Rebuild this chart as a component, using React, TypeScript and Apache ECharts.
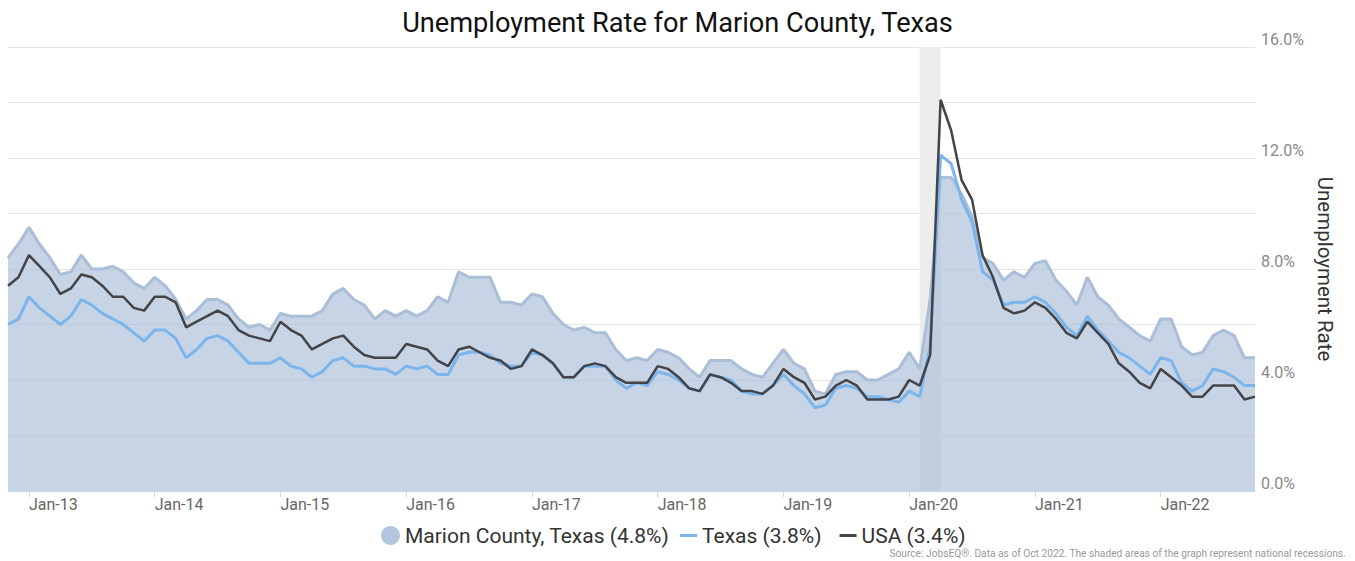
import React, { useEffect, useRef } from "react";
import * as echarts from "echarts";

const MONTHS = ["Jan", "Feb", "Mar", "Apr", "May", "Jun", "Jul", "Aug", "Sep", "Oct", "Nov", "Dec"];
// Monthly categories Nov-12 .. Oct-22
const categories: string[] = Array.from({ length: 120 }, (_, k) => {
  const m = (10 + k) % 12;
  const y = 12 + Math.floor((10 + k) / 12);
  return `${MONTHS[m]}-${String(y).padStart(2, "0")}`;
});

const marion = [
  8.4, 8.9, 9.5, 8.9, 8.4, 7.8, 7.9, 8.5, 8.0, 8.0, 8.1, 7.9,
  7.5, 7.3, 7.7, 7.4, 6.9, 6.2, 6.5, 6.9, 6.9, 6.7, 6.2, 5.9,
  6.0, 5.8, 6.4, 6.3, 6.3, 6.3, 6.5, 7.1, 7.3, 6.9, 6.7, 6.2,
  6.5, 6.3, 6.5, 6.3, 6.5, 7.0, 6.8, 7.9, 7.7, 7.7, 7.7, 6.8,
  6.8, 6.7, 7.1, 7.0, 6.4, 6.0, 5.8, 5.9, 5.7, 5.7, 5.1, 4.7,
  4.8, 4.7, 5.1, 5.0, 4.8, 4.4, 4.1, 4.7, 4.7, 4.7, 4.4, 4.2,
  4.1, 4.6, 5.1, 4.6, 4.4, 3.6, 3.5, 4.2, 4.3, 4.3, 4.0, 4.0,
  4.2, 4.4, 5.0, 4.4, 6.9, 11.3, 11.3, 10.7, 9.9, 8.4, 8.2, 7.6,
  7.9, 7.7, 8.2, 8.3, 7.6, 7.2, 6.7, 7.7, 7.0, 6.7, 6.2, 5.9,
  5.6, 5.4, 6.2, 6.2, 5.2, 4.9, 5.0, 5.6, 5.8, 5.6, 4.8, 4.8,
];

const texas = [
  6.0, 6.2, 7.0, 6.6, 6.3, 6.0, 6.3, 6.9, 6.7, 6.4, 6.2, 6.0,
  5.7, 5.4, 5.8, 5.8, 5.5, 4.8, 5.1, 5.5, 5.6, 5.4, 5.0, 4.6,
  4.6, 4.6, 4.8, 4.5, 4.4, 4.1, 4.3, 4.7, 4.8, 4.5, 4.5, 4.4,
  4.4, 4.2, 4.5, 4.4, 4.5, 4.2, 4.2, 4.9, 5.0, 5.0, 4.9, 4.6,
  4.5, 4.5, 5.0, 4.9, 4.6, 4.1, 4.1, 4.5, 4.5, 4.5, 4.0, 3.7,
  3.9, 3.8, 4.3, 4.2, 4.0, 3.7, 3.6, 4.2, 4.1, 4.0, 3.6, 3.5,
  3.5, 3.8, 4.2, 3.8, 3.5, 3.0, 3.1, 3.7, 3.8, 3.7, 3.4, 3.4,
  3.3, 3.2, 3.6, 3.4, 5.2, 12.1, 11.8, 10.5, 9.7, 7.9, 7.6, 6.7,
  6.8, 6.8, 7.0, 6.8, 6.4, 5.9, 5.6, 6.3, 5.8, 5.4, 5.0, 4.8,
  4.5, 4.2, 4.8, 4.7, 3.9, 3.6, 3.8, 4.4, 4.3, 4.1, 3.8, 3.8,
];

const usa = [
  7.4, 7.7, 8.5, 8.1, 7.7, 7.1, 7.3, 7.8, 7.7, 7.4, 7.0, 7.0,
  6.6, 6.5, 7.0, 7.0, 6.8, 5.9, 6.1, 6.3, 6.5, 6.3, 5.8, 5.6,
  5.5, 5.4, 6.1, 5.8, 5.6, 5.1, 5.3, 5.5, 5.6, 5.2, 4.9, 4.8,
  4.8, 4.8, 5.3, 5.2, 5.1, 4.7, 4.5, 5.1, 5.2, 5.0, 4.8, 4.7,
  4.4, 4.5, 5.1, 4.9, 4.6, 4.1, 4.1, 4.5, 4.6, 4.5, 4.1, 3.9,
  3.9, 3.9, 4.5, 4.4, 4.1, 3.7, 3.6, 4.2, 4.1, 3.9, 3.6, 3.6,
  3.5, 3.8, 4.4, 4.1, 3.9, 3.3, 3.4, 3.8, 4.0, 3.8, 3.3, 3.3,
  3.3, 3.4, 4.0, 3.8, 4.9, 14.1, 13.0, 11.2, 10.5, 8.5, 7.7, 6.6,
  6.4, 6.5, 6.8, 6.6, 6.2, 5.7, 5.5, 6.1, 5.7, 5.3, 4.6, 4.3,
  3.9, 3.7, 4.4, 4.1, 3.8, 3.4, 3.4, 3.8, 3.8, 3.8, 3.3, 3.4,
];

const seriesNames = ["Marion County, Texas (4.8%)", "Texas (3.8%)", "USA (3.4%)"];
const recession = ["Feb-20", "Apr-20"];
const yTicks = { min: 0, max: 16, interval: 2 };

const FONT = "Roboto, 'Noto Sans', sans-serif";

export default function App() {
  const ref = useRef<HTMLDivElement>(null);
  useEffect(() => {
    if (!ref.current) return;
    const chart = echarts.init(ref.current, null, { renderer: "svg" });
    const isJan = (_: number, v: string) => v.startsWith("Jan");
    chart.setOption({
      animation: false,
      textStyle: { fontFamily: FONT },
      title: {
        text: "Unemployment Rate for Marion County, Texas",
        left: "center",
        top: 4,
        textStyle: { fontFamily: FONT, fontSize: 27.2, fontWeight: "normal", color: "#111" },
      },
      grid: { left: 8, right: 100, top: 47, bottom: 70, containLabel: false },
      legend: [
        {
          data: [{ name: seriesNames[0], icon: "circle" }],
          left: 381,
          top: 525,
          padding: 0,
          itemWidth: 19,
          itemHeight: 19,
          itemGap: 0,
          textStyle: { fontFamily: FONT, fontSize: 21, color: "#333" },
          selectedMode: false,
        },
        {
          data: [
            { name: seriesNames[1], icon: "rect" },
            { name: seriesNames[2], icon: "rect" },
          ],
          left: 680,
          top: 525,
          padding: 0,
          itemWidth: 17,
          itemHeight: 3,
          itemGap: 18,
          textStyle: { fontFamily: FONT, fontSize: 21, color: "#333" },
          selectedMode: false,
        },
      ],
      xAxis: {
        type: "category",
        data: categories,
        boundaryGap: false,
        axisLine: { lineStyle: { color: "#ccd6eb" } },
        axisTick: { interval: isJan, length: 6, lineStyle: { color: "#ccd6eb" } },
        axisLabel: {
          interval: isJan,
          align: "left",
          margin: 5,
          fontSize: 16,
          color: "#666",
          fontFamily: FONT,
        },
        splitLine: { show: false },
      },
      yAxis: {
        type: "value",
        position: "right",
        min: yTicks.min,
        max: yTicks.max,
        interval: yTicks.interval,
        name: "Unemployment Rate",
        nameLocation: "middle",
        nameRotate: -90,
        nameGap: 55,
        nameTextStyle: { fontFamily: FONT, fontSize: 20.5, color: "#333" },
        axisLine: { show: false },
        axisTick: { show: false },
        splitLine: { lineStyle: { color: "#e6e6e6", width: 1 } },
        axisLabel: {
          formatter: (v: number) => (v % 4 === 0 ? v.toFixed(1) + "%" : ""),
          verticalAlign: "bottom",
          margin: 6,
          fontSize: 16,
          color: "#888",
          fontFamily: FONT,
        },
      },
      series: [
        {
          name: "recession",
          type: "line",
          data: [],
          z: 1,
          silent: true,
          markArea: {
            silent: true,
            itemStyle: { color: "#ececec" },
            data: [[{ xAxis: recession[0] }, { xAxis: recession[1] }]],
          },
        },
        {
          name: seriesNames[0],
          type: "line",
          data: marion,
          z: 2,
          showSymbol: false,
          color: "#b4c6de",
          lineStyle: { color: "#aabed7", width: 3 },
          areaStyle: { color: "#aabed7", opacity: 0.66 },
        },
        {
          name: seriesNames[1],
          type: "line",
          data: texas,
          z: 3,
          showSymbol: false,
          color: "#7cb5ec",
          lineStyle: { color: "#7cb5ec", width: 3 },
        },
        {
          name: seriesNames[2],
          type: "line",
          data: usa,
          z: 4,
          showSymbol: false,
          color: "#434348",
          lineStyle: { color: "#434348", width: 2.5 },
        },
      ],
      graphic: [
        {
          type: "text",
          right: 9,
          top: 548,
          style: {
            text: "Source: JobsEQ®. Data as of Oct 2022. The shaded areas of the graph represent national recessions.",
            fontSize: 10.2,
            fill: "#999",
            fontFamily: FONT,
          },
        },
      ],
    });
    return () => chart.dispose();
  }, []);
  return <div ref={ref} style={{ width: 1355, height: 561, position: "absolute", left: 0, top: 0 }} />;
}
